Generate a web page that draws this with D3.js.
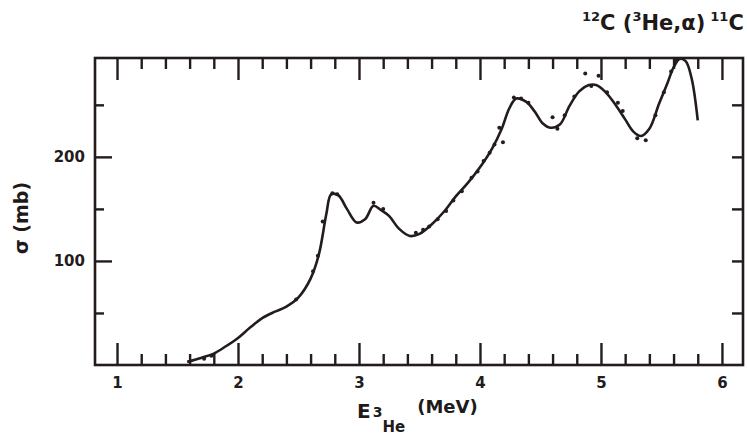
<!DOCTYPE html>
<html>
<head>
<meta charset="utf-8">
<script src="https://cdn.jsdelivr.net/npm/d3@7"></script>
<style>
  body { margin: 0; background: #fff; }
  text { font-family: "DejaVu Sans", sans-serif; font-weight: bold; fill: #1e1a1a; }
</style>
</head>
<body>
<svg id="chart" width="747" height="445"></svg>
<script>
// smooth fitted curve, E(3He) in MeV vs sigma in mb
var curveE = [1.58, 1.70, 1.80, 1.90, 2.00, 2.10, 2.20, 2.30, 2.40, 2.50, 2.60, 2.67, 2.73, 2.77,
  2.83, 2.90, 2.98, 3.05, 3.12, 3.18, 3.25, 3.33, 3.42, 3.50, 3.60, 3.70, 3.80, 3.90, 4.00,
  4.10, 4.18, 4.24, 4.30, 4.38, 4.45, 4.52, 4.58, 4.66, 4.74, 4.82, 4.90, 4.96, 5.04, 5.12,
  5.20, 5.27, 5.33, 5.40, 5.48, 5.55, 5.60, 5.65, 5.70, 5.75, 5.80];
var curveSigma = [3, 7, 11, 18, 26, 36, 45, 51, 56, 65, 83, 107, 145, 164,
  163, 150, 137, 140, 153, 149, 143, 131, 124, 126, 135, 147, 162, 175, 190,
  208, 227, 246, 256, 253, 244, 232, 228, 231, 249, 263, 269, 269, 262, 250,
  236, 224, 220, 227, 251, 271, 286, 294, 292, 275, 235];

// measured points
var pointE = [1.72, 1.78, 2.48, 2.62, 2.66, 2.70, 2.78, 2.82, 3.12, 3.20, 3.47, 3.53, 3.58,
  3.65, 3.72, 3.78, 3.85, 3.93, 3.98, 4.03, 4.08, 4.12, 4.16, 4.19, 4.28, 4.34, 4.40,
  4.60, 4.64, 4.70, 4.78, 4.87, 4.92, 4.98, 5.05, 5.14, 5.18, 5.30, 5.37, 5.45, 5.52,
  5.58, 5.62];
var pointSigma = [6, 9, 63, 90, 105, 138, 165, 164, 156, 150, 127, 130, 133,
  140, 148, 158, 167, 180, 186, 196, 204, 212, 228, 214, 257, 256, 252,
  238, 227, 240, 258, 280, 268, 278, 262, 252, 244, 218, 216, 240, 262,
  282, 293];

var xMajor = [1, 2, 3, 4, 5, 6];
var xMinor = [1.2, 1.4, 1.6, 1.8, 2.2, 2.4, 2.6, 2.8, 3.2, 3.4, 3.6, 3.8,
  4.2, 4.4, 4.6, 4.8, 5.2, 5.4, 5.6, 5.8];
var yMajor = [100, 200];
var yMinor = [50, 150, 250];

var ink = "#241c1c";
var svg = d3.select("#chart");

var x = d3.scaleLinear().domain([0.818, 6.174]).range([95, 743]);
var y = d3.scaleLinear().domain([0, 295]).range([365, 58]);

var plotLeft = x.range()[0], plotRight = x.range()[1];
var plotTop = y.range()[1], plotBottom = y.range()[0];

function styleAxis(g) {
  g.select(".domain").remove();
  g.selectAll(".tick line").attr("stroke", ink).attr("stroke-width", 2.4);
  g.selectAll("text").attr("font-size", 15).style("fill", ink);
}

// bottom ticks (inward) + labels
svg.append("g").attr("transform", "translate(0," + plotBottom + ")")
  .call(d3.axisBottom(x).tickValues(xMinor).tickSize(-11).tickFormat(""))
  .call(styleAxis);
svg.append("g").attr("transform", "translate(0," + plotBottom + ")")
  .call(d3.axisBottom(x).tickValues(xMajor).tickSize(-22).tickPadding(12).tickFormat(d3.format("d")))
  .call(styleAxis);

// top ticks (inward)
svg.append("g").attr("transform", "translate(0," + plotTop + ")")
  .call(d3.axisTop(x).tickValues(xMinor).tickSize(-11).tickFormat(""))
  .call(styleAxis);
svg.append("g").attr("transform", "translate(0," + plotTop + ")")
  .call(d3.axisTop(x).tickValues(xMajor).tickSize(-22).tickFormat(""))
  .call(styleAxis);

// left ticks
svg.append("g").attr("transform", "translate(" + plotLeft + ",0)")
  .call(d3.axisLeft(y).tickValues(yMinor).tickSize(-9).tickFormat(""))
  .call(styleAxis);
svg.append("g").attr("transform", "translate(" + plotLeft + ",0)")
  .call(d3.axisLeft(y).tickValues(yMajor).tickSize(-17).tickPadding(10).tickFormat(d3.format("d")))
  .call(styleAxis);

// right ticks
svg.append("g").attr("transform", "translate(" + plotRight + ",0)")
  .call(d3.axisRight(y).tickValues(yMinor.concat(yMajor)).tickSize(-11).tickFormat(""))
  .call(styleAxis);

// frame
svg.append("rect")
  .attr("x", plotLeft).attr("y", plotTop)
  .attr("width", plotRight - plotLeft).attr("height", plotBottom - plotTop)
  .attr("fill", "none").attr("stroke", ink).attr("stroke-width", 2.6);

// fitted curve
var line = d3.line()
  .x(function(d, i) { return x(curveE[i]); })
  .y(function(d) { return y(d); })
  .curve(d3.curveCatmullRom.alpha(0.5));

svg.append("path")
  .datum(curveSigma)
  .attr("d", line)
  .attr("fill", "none")
  .attr("stroke", ink)
  .attr("stroke-width", 2.6)
  .attr("stroke-linejoin", "round");

// data points
svg.append("g").selectAll("circle")
  .data(pointSigma)
  .enter().append("circle")
  .attr("cx", function(d, i) { return x(pointE[i]); })
  .attr("cy", function(d) { return y(d); })
  .attr("r", 2)
  .attr("fill", ink);

// y title
svg.append("text")
  .attr("transform", "translate(28,218) rotate(-90)")
  .attr("text-anchor", "middle")
  .attr("font-size", 19)
  .text("σ (mb)");

// x title
var xt = svg.append("text").attr("x", 357).attr("y", 418).attr("font-size", 20);
xt.append("tspan").text("E");
xt.append("tspan").attr("dx", 2).attr("dy", -1).attr("font-size", 14).text("3");
xt.append("tspan").attr("dy", 15).attr("font-size", 15).text("He");
xt.append("tspan").attr("dx", 12).attr("dy", -19).attr("font-size", 18).text("(MeV)");

// reaction label
var tt = svg.append("text").attr("x", 582).attr("y", 30).attr("font-size", 21);
tt.append("tspan").attr("font-size", 13).attr("dy", -9).text("12");
tt.append("tspan").attr("dy", 9).text("C (");
tt.append("tspan").attr("font-size", 13).attr("dy", -9).text("3");
tt.append("tspan").attr("dy", 9).text("He,α)");
tt.append("tspan").attr("font-size", 13).attr("dx", 5).attr("dy", -9).text("11");
tt.append("tspan").attr("dy", 9).text("C");
</script>
</body>
</html>
